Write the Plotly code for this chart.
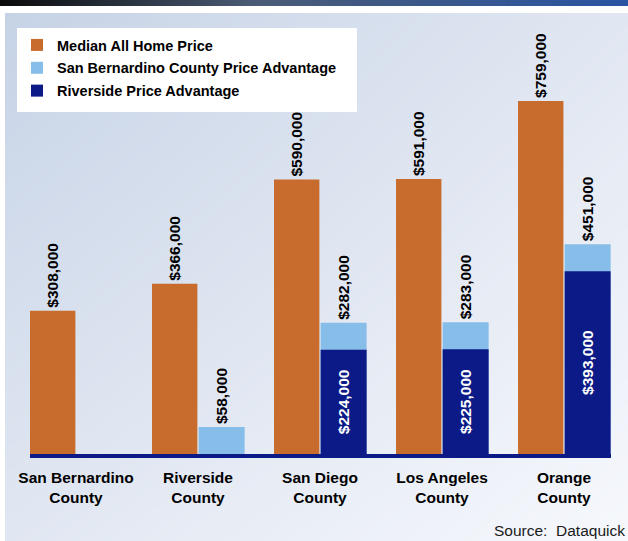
import plotly.graph_objects as go

# donnees
counties = ["San Bernardino<br>County", "Riverside<br>County", "San Diego<br>County",
            "Los Angeles<br>County", "Orange<br>County"]
median_price = [308000, 366000, 590000, 591000, 759000]
sb_advantage = [None, 58000, 282000, 283000, 451000]
riverside_advantage = [None, None, 224000, 225000, 393000]

series_names = ["Median All Home Price", "San Bernardino County Price Advantage",
                "Riverside Price Advantage"]
source_text = "Source:  Dataquick"

W, H = 628, 541
FONT = "Liberation Sans, Arial, Helvetica, sans-serif"
ORANGE = "#C86C2D"
LIGHTBLUE = "#86BDE9"
NAVY = "#0B1A86"

fig = go.Figure()

# fond degrade (axes x/y, derriere tout)
fig.add_trace(go.Heatmap(
    z=[[0.55, 1.0], [0.0, 0.55]], x=[0, 1], y=[0, 1],
    colorscale=[[0, "#C6D3E6"], [0.55, "#E1E7F2"], [1, "#F6F8FC"]],
    zsmooth="best", showscale=False, hoverinfo="skip",
    xaxis="x", yaxis="y"
))

# bandeau du haut
fig.add_trace(go.Heatmap(
    z=[[0, 1], [0, 1]], x=[0, 1], y=[0, 1],
    colorscale=[[0, "#0a0a0a"], [0.4, "#4a5b75"], [1, "#2a55a3"]],
    zsmooth="best", showscale=False, hoverinfo="skip",
    xaxis="x2", yaxis="y2"
))

label_font = dict(family=FONT, size=15.5, color="black", weight="bold")

fig.add_trace(go.Bar(
    x=counties, y=median_price, name=series_names[0], legendgroup="a",
    marker=dict(color=ORANGE, line=dict(width=0)),
    offset=-0.377, width=0.372,
    texttemplate="$%{y:,.0f}", textposition="outside", textangle=-90,
    textfont=label_font, constraintext="none", cliponaxis=False,
    xaxis="x3", yaxis="y3"
))
fig.add_trace(go.Bar(
    x=counties, y=sb_advantage, name=series_names[1], legendgroup="b",
    marker=dict(color=LIGHTBLUE, line=dict(width=0)),
    offset=0.005, width=0.377,
    texttemplate="$%{y:,.0f}", textposition="outside", textangle=-90,
    textfont=label_font, constraintext="none", cliponaxis=False,
    xaxis="x3", yaxis="y3"
))
fig.add_trace(go.Bar(
    x=counties, y=riverside_advantage, name=series_names[2], legendgroup="c",
    marker=dict(color=NAVY, line=dict(width=0)),
    offset=0.005, width=0.377,
    texttemplate="$%{y:,.0f}", textposition="inside", insidetextanchor="middle",
    textangle=-90, textfont=dict(family=FONT, size=15.5, color="white", weight="bold"),
    constraintext="none", cliponaxis=False,
    xaxis="x3", yaxis="y3"
))

fig.update_layout(
    width=W, height=H,
    margin=dict(l=0, r=0, t=0, b=0, pad=0, autoexpand=False),
    paper_bgcolor="white",
    plot_bgcolor="rgba(0,0,0,0)",
    barmode="overlay",
    xaxis=dict(domain=[5 / W, 1], range=[0, 1], visible=False, fixedrange=True),
    yaxis=dict(domain=[0, (H - 13) / H], range=[0, 1], visible=False, fixedrange=True),
    xaxis2=dict(domain=[0, 1], range=[0, 1], visible=False, anchor="y2"),
    yaxis2=dict(domain=[(H - 6) / H, 1], range=[0, 1], visible=False, anchor="x2"),
    xaxis3=dict(
        domain=[30 / W, 611 / W], anchor="y3",
        range=[-0.377, 4.385], automargin=False,
        showline=True, linecolor=NAVY, linewidth=4,
        showgrid=False, zeroline=False, ticks="",
        tickfont=dict(family=FONT, size=15.5, color="black", weight="bold"),
        ticklabelstandoff=6,
    ),
    yaxis3=dict(
        domain=[(H - 454) / H, (H - 13) / H], anchor="x3",
        range=[0, 948000], visible=False, showgrid=False, zeroline=False,
    ),
    showlegend=True,
    legend=dict(
        x=17 / W, y=1 - 29 / H, xanchor="left", yanchor="top",
        bgcolor="white", borderwidth=0, traceorder="grouped", tracegroupgap=1,
        font=dict(family=FONT, size=14.5, color="black", weight="bold"),
        itemclick=False, itemdoubleclick=False,
    ),
    # cadre blanc de la legende, un peu plus large que celui de plotly
    shapes=[dict(
        type="rect", xref="paper", yref="paper",
        x0=17 / W, x1=357 / W, y0=1 - 112 / H, y1=1 - 28 / H,
        fillcolor="white", line=dict(width=0), layer="above",
    )],
    annotations=[dict(
        text=source_text, xref="paper", yref="paper",
        x=627 / W, y=(H - 530) / H, xanchor="right", yanchor="middle",
        showarrow=False, font=dict(family=FONT, size=15.5, color="#1a1a1a"),
    )],
)

# la page html a une marge de 8px par defaut : on la retire
fig.write_html("out.html", config={"displayModeBar": False},
               post_script="document.body.style.margin='0';")
